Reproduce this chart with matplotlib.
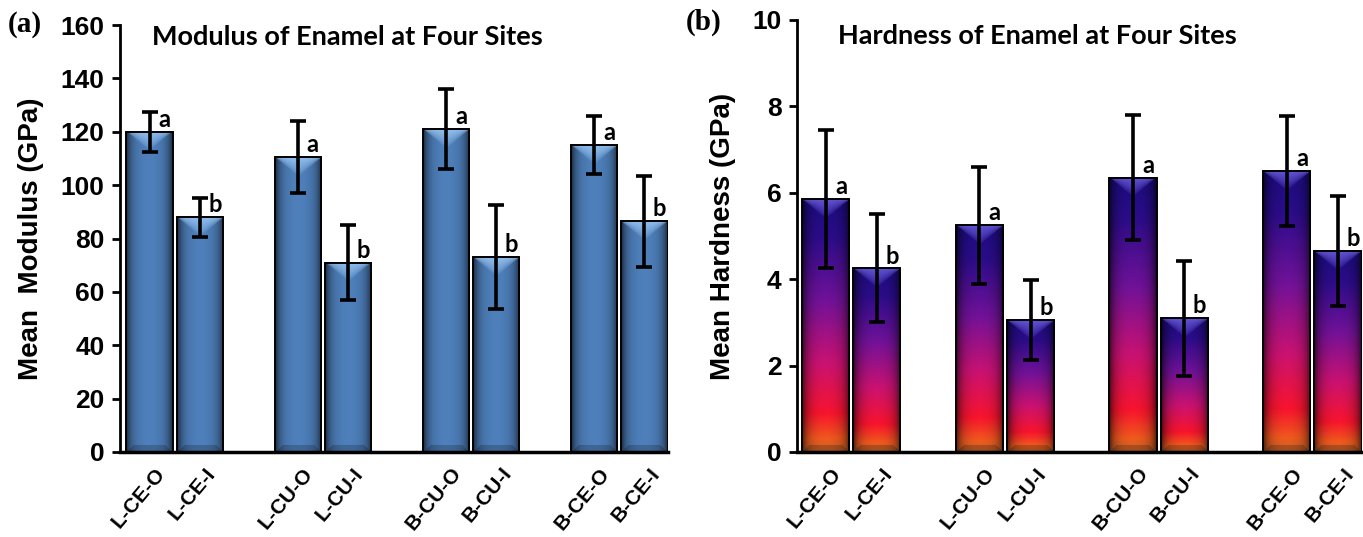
import numpy as np
import matplotlib
matplotlib.use("Agg")
import matplotlib.pyplot as plt
from matplotlib.colors import LinearSegmentedColormap

# enamel nanoindentation results, four sites, outer (O) vs inner (I)
sites = ["L-CE-O", "L-CE-I", "L-CU-O", "L-CU-I", "B-CU-O", "B-CU-I", "B-CE-O", "B-CE-I"]
groups = ["a", "b", "a", "b", "a", "b", "a", "b"]
modulus = [120, 88, 110.5, 71, 121, 73, 115, 86.5]
modulus_err = [7.5, 7.3, 13.5, 14, 15, 19.5, 11, 17]
hardness = [5.85, 4.25, 5.25, 3.05, 6.35, 3.1, 6.5, 4.65]
hardness_err = [1.6, 1.25, 1.35, 0.92, 1.45, 1.33, 1.27, 1.27]

SANS = "Liberation Sans"
TITLE_FONT = "Lato"

blue_cmap = LinearSegmentedColormap.from_list("blue", ["#4f81bd", "#4f81bd"])
fire_cmap = LinearSegmentedColormap.from_list("fire", [
    (0.00, "#1c0c80"), (0.15, "#2c0c8c"), (0.40, "#72129a"),
    (0.65, "#cc1272"), (0.85, "#fa142d"), (0.95, "#f25a1e"), (1.00, "#c8642a")])


def bar_image(w_px, h_px, cmap, hilite):
    """RGB array for a bevelled bar, top row first."""
    W = max(int(round(w_px)), 4)
    H = max(int(round(h_px)), 4)
    c = np.arange(W) + 0.5
    r = np.arange(H) + 0.5
    cc, rr = np.meshgrid(c, r)
    t = rr / H
    img = cmap(t)[..., :3]
    d_edge = np.minimum(cc, W - cc)
    d_bot = H - rr
    # darken toward the left/right edges
    shade = 0.3 + 0.7 * (1 - np.exp(-d_edge / 5.0))
    shade *= 0.92 + 0.08 * np.sin(np.pi * cc / W)
    img = img * shade[..., None]
    # bottom bevel strip
    bev = (d_bot < 7) & (d_bot < d_edge)
    img[bev] *= 0.8
    # chevron highlight under the top edge
    depth = 0.42 * W
    u = np.abs(2 * cc / W - 1)
    lim = depth * (1 - u)
    mask = rr < lim
    strength = np.clip(1 - rr / np.maximum(lim, 1e-6), 0, 1) ** 0.6 * 0.75
    strength = np.where(mask, strength, 0)
    hl = np.array(matplotlib.colors.to_rgb(hilite))
    img = img * (1 - strength[..., None]) + hl * strength[..., None]
    return np.clip(img, 0, 1)


def draw_panel(ax, values, errs, spacing, xlim, ylim, yticks, cmap, hilite,
               ylabel, title, title_xy):
    pos = np.array([g * spacing + k for g in range(4) for k in (0, 1)])
    ax.set_xlim(*xlim)
    ax.set_ylim(*ylim)
    bars = ax.bar(pos, values, width=0.92, facecolor="none", edgecolor="black",
                  linewidth=1.4, zorder=3)
    # pixel scale of the axes to size the shading images
    p0 = ax.transData.transform((0, 0))
    p1 = ax.transData.transform((1, 1))
    sx, sy = p1 - p0
    for b in bars:
        x0, w, h = b.get_x(), b.get_width(), b.get_height()
        img = bar_image(w * sx, h * sy, cmap, hilite)
        ax.imshow(img, extent=(x0, x0 + w, 0, h), aspect="auto",
                  interpolation="bilinear", zorder=2)
    ax.set_xlim(*xlim)
    ax.set_ylim(*ylim)
    ax.errorbar(pos, values, yerr=errs, fmt="none", ecolor="black",
                elinewidth=2.6, capsize=6, capthick=2.6, zorder=4)
    yr = ylim[1] - ylim[0]
    for x, v, g in zip(pos, values, groups):
        ax.text(x + 0.3, v + yr * 0.002, g, ha="center", va="bottom",
                fontsize=17, fontweight="bold", family=TITLE_FONT, zorder=5)

    ax.set_yticks(yticks)
    ax.set_yticklabels([str(t) for t in yticks], fontsize=19,
                       fontweight="bold", family=SANS)
    # slanted labels end a little right of each bar centre (ticks are hidden)
    ax.set_xticks(pos + 0.24)
    ax.set_xticklabels(sites, rotation=50, ha="right", va="center",
                       rotation_mode="anchor", fontsize=15,
                       fontweight="bold", family=SANS)
    ax.tick_params(axis="x", length=0, pad=13)
    ax.tick_params(axis="y", length=6, width=2, direction="out", pad=5)
    for s in ("top", "right"):
        ax.spines[s].set_visible(False)
    ax.spines["left"].set_linewidth(2)
    ax.spines["bottom"].set_linewidth(2.5)
    ax.set_ylabel(ylabel, fontsize=20, fontweight="bold", family=SANS, labelpad=12)
    ax.text(title_xy[0], title_xy[1], title, transform=ax.transAxes,
            ha="left", va="center", fontsize=19.5, fontweight="bold",
            family=TITLE_FONT)
    return ax


fig = plt.figure(figsize=(13.63, 5.37), dpi=100)
ax_a = fig.add_axes([0.0880, 0.1583, 0.4021, 0.7951])
ax_b = fig.add_axes([0.5847, 0.1583, 0.4146, 0.8045])

draw_panel(ax_a, modulus, modulus_err, 2.95, (-0.59, 10.32), (0, 160),
           list(range(0, 161, 20)), blue_cmap, "#a8d4ff",
           "Mean  Modulus (GPa)", "Modulus of Enamel at Four Sites",
           (0.058, 0.972))
draw_panel(ax_b, hardness, hardness_err, 3.0, (-0.56, 10.47), (0, 10),
           list(range(0, 11, 2)), fire_cmap, "#7a6cf0",
           "Mean Hardness (GPa)", "Hardness of Enamel at Four Sites",
           (0.0726, 0.962))

fig.text(8 / 1363, 1 - 25 / 537, "(a)", ha="left", va="center", fontsize=21,
         fontweight="bold", family="Liberation Serif")
fig.text(686 / 1363, 1 - 22 / 537, "(b)", ha="left", va="center", fontsize=21,
         fontweight="bold", family="Liberation Serif")

fig.savefig("out.png", dpi=100)
